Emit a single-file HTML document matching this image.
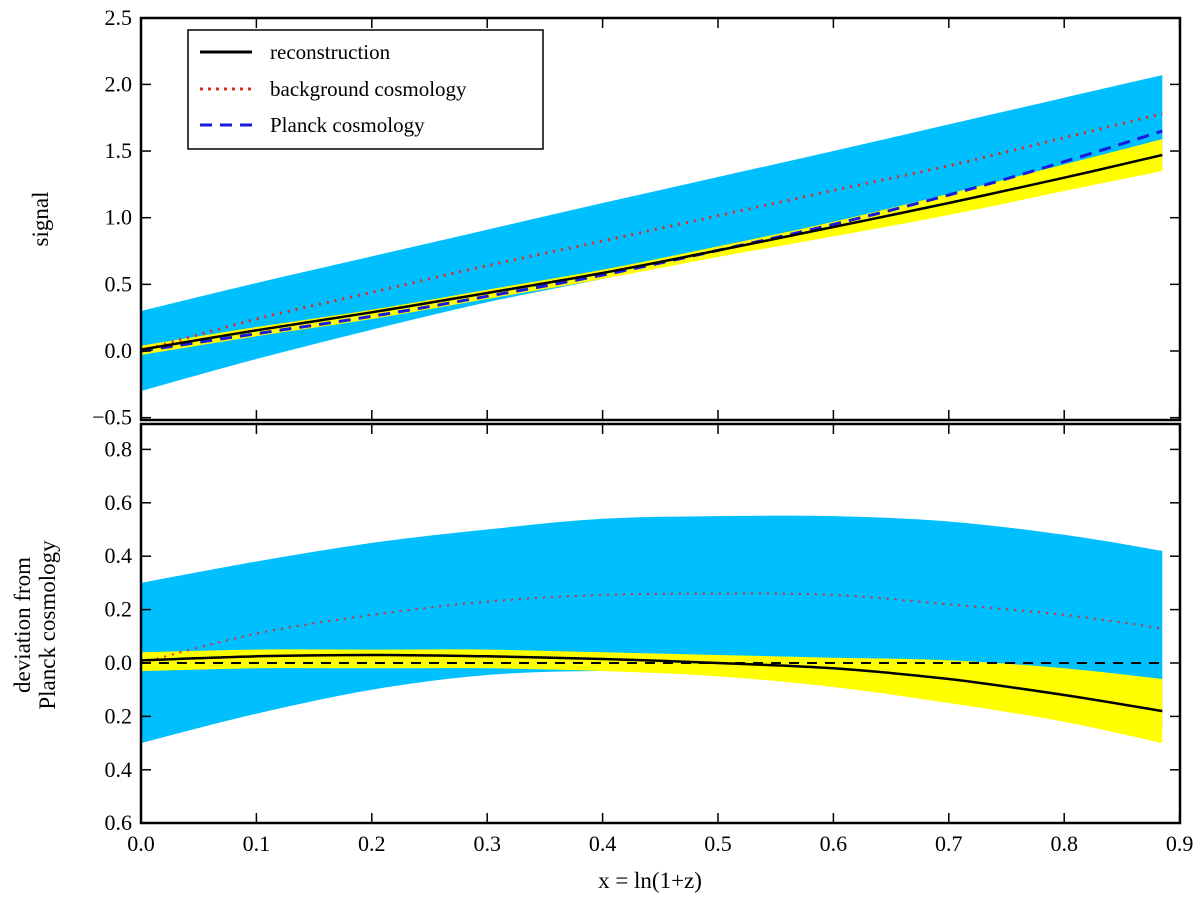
<!DOCTYPE html>
<html><head><meta charset="utf-8"><style>
body{margin:0;background:#fff}
svg text{font-family:"Liberation Serif",serif;fill:#000}
</style></head><body>
<svg id="c" width="1200" height="903" xmlns="http://www.w3.org/2000/svg"></svg>
<script>
const xs=[0,0.1,0.2,0.3,0.4,0.5,0.6,0.7,0.8,0.885];
const planck=[0,0.13,0.26,0.41,0.57,0.755,0.95,1.17,1.42,1.65];
const blueUp=[0.30,0.38,0.45,0.50,0.54,0.55,0.55,0.53,0.48,0.42];
const blueLo=[-0.30,-0.19,-0.10,-0.045,-0.03,-0.04,-0.07,-0.12,-0.18,-0.25];
const yelUp=[0.04,0.05,0.05,0.05,0.04,0.03,0.02,0.01,-0.02,-0.06];
const yelLo=[-0.03,-0.02,-0.02,-0.02,-0.03,-0.05,-0.09,-0.15,-0.22,-0.30];
const recon=[0.01,0.025,0.03,0.025,0.015,0.0,-0.02,-0.06,-0.12,-0.18];
const bg=[0,0.11,0.18,0.23,0.255,0.26,0.255,0.22,0.18,0.13];
const xTicks=[0,0.1,0.2,0.3,0.4,0.5,0.6,0.7,0.8,0.9];
const topTicks=[-0.5,0,0.5,1.0,1.5,2.0,2.5];
const botTicks=[-0.6,-0.4,-0.2,0,0.2,0.4,0.6,0.8];
const NS="http://www.w3.org/2000/svg";
const svg=document.getElementById('c');
const X=v=>141+v*1154;
const YT=v=>351-v*133.3;
const YB=v=>663-v*267;
function el(t,a,p){const e=document.createElementNS(NS,t);for(const k in a)e.setAttribute(k,a[k]);(p||svg).appendChild(e);return e;}
function curve(P){ // Catmull-Rom through points
  let d='';
  for(let i=0;i<P.length-1;i++){
    const p0=P[Math.max(i-1,0)],p1=P[i],p2=P[i+1],p3=P[Math.min(i+2,P.length-1)];
    const c1=[p1[0]+(p2[0]-p0[0])/6,p1[1]+(p2[1]-p0[1])/6];
    const c2=[p2[0]-(p3[0]-p1[0])/6,p2[1]-(p3[1]-p1[1])/6];
    d+=' C'+c1.map(v=>v.toFixed(1)).join(',')+' '+c2.map(v=>v.toFixed(1)).join(',')+' '+p2.map(v=>v.toFixed(1)).join(',');
  }
  return d;
}
function P(arr,Y){return xs.map((x,i)=>[X(x),Y(arr[i])]);}
function band(up,lo,Y,col,name){
  const a=P(up,Y),b=P(lo,Y).reverse();
  const d='M'+a[0].join(',')+curve(a)+' L'+b[0].join(',')+curve(b)+' Z';
  const p=el('path',{d:d,fill:col});
  
  
}
function line(arr,Y,col,dash,w,name){
  const a=P(arr,Y);
  const p=el('path',{d:'M'+a[0].join(',')+curve(a),fill:'none',stroke:col,'stroke-width':w});
  if(dash)p.setAttribute('stroke-dasharray',dash);
  
  
}
const add=(a,b)=>a.map((v,i)=>v+b[i]);
band(add(planck,blueUp),add(planck,blueLo),YT,'#00bfff','top-blue-band');
band(add(planck,yelUp),add(planck,yelLo),YT,'#ffff00','top-yellow-band');
line(add(planck,bg),YT,'#e8261a','2,6',3,'top-background-line');
line(planck,YT,'#1a1adc','12,8',3,'top-planck-line');
line(add(planck,recon),YT,'#000','',2.5,'top-reconstruction-line');
band(blueUp,blueLo,YB,'#00bfff','bottom-blue-band');
band(yelUp,yelLo,YB,'#ffff00','bottom-yellow-band');
line(bg,YB,'#e8261a','2,6',2,'bottom-background-line');
line(planck.map(()=>0),YB,'#000','10,8',2,'bottom-planck-line');
line(recon,YB,'#000','',2.5,'bottom-reconstruction-line');
const f1=el('rect',{x:141,y:18,width:1039,height:402,fill:'none',stroke:'#000','stroke-width':2.5});

const f2=el('rect',{x:141,y:424,width:1039,height:399,fill:'none',stroke:'#000','stroke-width':2.5});

xTicks.forEach(v=>{
  const x=X(v);
  [[18,28],[410,420],[424,434],[813,823]].forEach(([a,b])=>el('line',{x1:x,x2:x,y1:a,y2:b,stroke:'#000','stroke-width':1.5}));
  const t=el('text',{x:x,y:851,'font-size':22,'text-anchor':'middle'});t.textContent=v.toFixed(1);
  
});
topTicks.forEach(v=>{
  const y=YT(v);
  el('line',{x1:141,x2:151,y1:y,y2:y,stroke:'#000','stroke-width':1.5});
  el('line',{x1:1170,x2:1180,y1:y,y2:y,stroke:'#000','stroke-width':1.5});
  const t=el('text',{x:132,y:y+7,'font-size':22,'text-anchor':'end'});t.textContent=(v<0?'\u2212':'')+Math.abs(v).toFixed(1);
  
});
botTicks.forEach(v=>{
  const y=YB(v);
  el('line',{x1:141,x2:151,y1:y,y2:y,stroke:'#000','stroke-width':1.5});
  el('line',{x1:1170,x2:1180,y1:y,y2:y,stroke:'#000','stroke-width':1.5});
  const t=el('text',{x:132,y:y+7,'font-size':22,'text-anchor':'end'});t.textContent=Math.abs(v).toFixed(1);
  
});
</script>
<svg style="position:absolute;left:0;top:0" width="1200" height="903" xmlns="http://www.w3.org/2000/svg">
<text x="650" y="888" font-size="23" text-anchor="middle">x = ln(1+z)</text>
<text transform="translate(48,219) rotate(-90)" font-size="23" text-anchor="middle">signal</text>
<text transform="translate(30,625) rotate(-90)" font-size="23" text-anchor="middle">deviation from</text>
<text transform="translate(55,625) rotate(-90)" font-size="23" text-anchor="middle">Planck cosmology</text>
<g>
<rect x="188" y="30" width="355" height="119" fill="#fff" stroke="#000" stroke-width="1.5"/>
<line x1="200" x2="252" y1="52" y2="52" stroke="#000" stroke-width="3"/>
<text x="270" y="59" font-size="21">reconstruction</text>
<line x1="200" x2="252" y1="89" y2="89" stroke="#e8261a" stroke-width="3" stroke-dasharray="3,5"/>
<text x="270" y="96" font-size="21">background cosmology</text>
<line x1="200" x2="252" y1="125" y2="125" stroke="#1a1adc" stroke-width="3" stroke-dasharray="12,8"/>
<text x="270" y="132" font-size="21">Planck cosmology</text>
</g>
</svg>
</body></html>
